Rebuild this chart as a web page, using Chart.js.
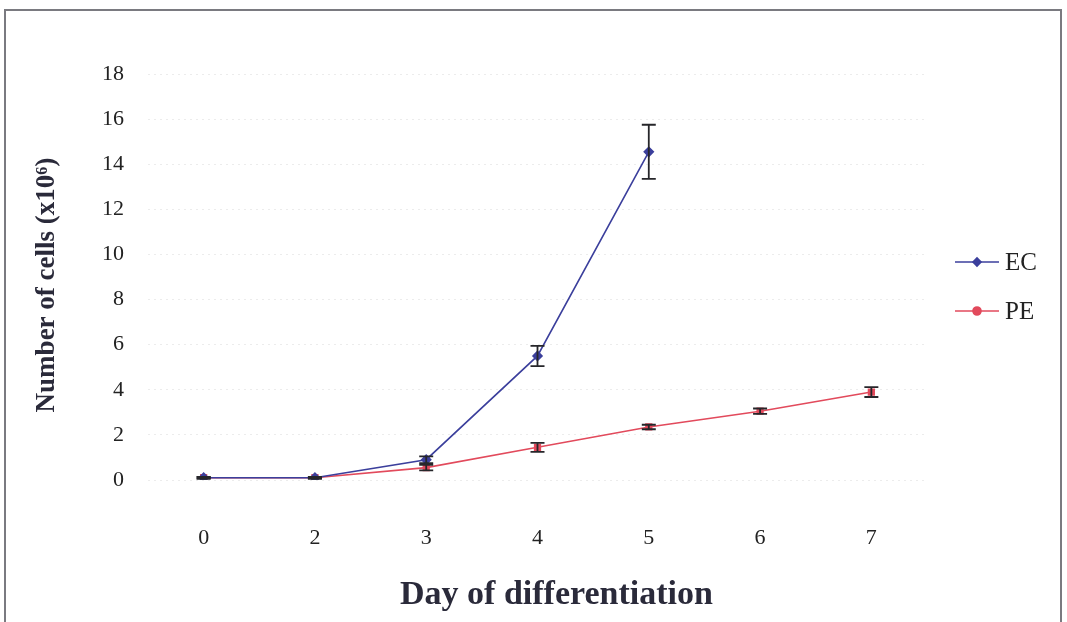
<!DOCTYPE html>
<html>
<head>
<meta charset="utf-8">
<script src="https://cdn.jsdelivr.net/npm/chart.js@4/dist/chart.umd.min.js"></script>
<style>
  html, body { margin: 0; padding: 0; background: #fff; }
  #wrap { position: relative; width: 1067px; height: 622px; overflow: hidden; }
  #frame { position: absolute; left: 4px; top: 9px; width: 1058px; height: 640px;
           border: 2px solid #7a7a80; box-sizing: border-box; pointer-events: none; }
  canvas { position: absolute; left: 0; top: 0; }
</style>
</head>
<body>
<div id="wrap">
  <canvas id="c" width="1067" height="622"></canvas>
  <div id="frame"></div>
</div>
<script>
// Days of differentiation (category axis)
const days = ['0', '2', '3', '4', '5', '6', '7'];
// Mean cell counts (x10^6)
const ecValues = [0.1, 0.1, 0.9, 5.5, 14.55, null, null];
const peValues = [0.1, 0.1, 0.55, 1.45, 2.35, 3.05, 3.9];
// Error bar half-lengths
const ecErrors = [0.04, 0.04, 0.15, 0.45, 1.2, null, null];
const peErrors = [0.04, 0.04, 0.12, 0.2, 0.1, 0.12, 0.22];
// Y axis range
const yTicks = { min: 0, max: 18, step: 2 };
// Axis titles
const xTitle = 'Day of differentiation';
const yTitle = 'Number of cells (x10\u2076)';

const EC_COLOR = '#3b3f9c';
const PE_COLOR = '#e24a5c';
const SERIF = '"Liberation Serif", "Times New Roman", serif';

// Vertical error bars with caps
const errorBars = {
  id: 'errorBars',
  afterDatasetsDraw(chart) {
    const ctx = chart.ctx;
    const x = chart.scales.x, y = chart.scales.y;
    const sets = [[ecValues, ecErrors], [peValues, peErrors]];
    ctx.save();
    ctx.strokeStyle = '#26262a';
    ctx.lineWidth = 1.8;
    sets.forEach(([vals, errs]) => {
      vals.forEach((v, i) => {
        if (v == null || errs[i] == null) return;
        const px = x.getPixelForValue(i);
        const top = y.getPixelForValue(v + errs[i]);
        const bot = y.getPixelForValue(v - errs[i]);
        ctx.beginPath();
        ctx.moveTo(px, top); ctx.lineTo(px, bot);
        ctx.moveTo(px - 7, top); ctx.lineTo(px + 7, top);
        ctx.moveTo(px - 7, bot); ctx.lineTo(px + 7, bot);
        ctx.stroke();
      });
    });
    ctx.restore();
  }
};

// Axis titles and the legend on the right
const annotations = {
  id: 'annotations',
  afterDraw(chart) {
    const ctx = chart.ctx;
    const area = chart.chartArea;
    ctx.save();
    ctx.fillStyle = '#2a2a3a';
    ctx.textAlign = 'center';
    ctx.textBaseline = 'middle';
    ctx.font = 'bold 34px ' + SERIF;
    ctx.fillText(xTitle, (area.left + area.right) / 2 + 19, 595);
    ctx.save();
    ctx.translate(47, (area.top + area.bottom) / 2 + 8);
    ctx.rotate(-Math.PI / 2);
    ctx.font = 'bold 27px ' + SERIF;
    ctx.fillText(yTitle, 0, 0);
    ctx.restore();

    const items = [
      { label: 'EC', color: EC_COLOR, style: 'rectRot', y: 262 },
      { label: 'PE', color: PE_COLOR, style: 'circle', y: 311 }
    ];
    items.forEach(it => {
      ctx.strokeStyle = it.color;
      ctx.lineWidth = 1.6;
      ctx.beginPath();
      ctx.moveTo(955, it.y); ctx.lineTo(999, it.y);
      ctx.stroke();
      ctx.fillStyle = it.color;
      Chart.helpers.drawPoint(ctx, { pointStyle: it.style, radius: 4, borderWidth: 1 }, 977, it.y);
      ctx.fill();
      ctx.fillStyle = '#222';
      ctx.font = '25px ' + SERIF;
      ctx.textBaseline = 'middle';
      ctx.textAlign = 'left';
      ctx.fillText(it.label, 1005, it.y + 1);
    });
    ctx.restore();
  }
};

new Chart(document.getElementById('c'), {
  type: 'line',
  data: {
    labels: days,
    datasets: [
      {
        label: 'EC', data: ecValues,
        borderColor: EC_COLOR, backgroundColor: EC_COLOR,
        borderWidth: 1.6, pointStyle: 'rectRot', pointRadius: 4.5,
        tension: 0
      },
      {
        label: 'PE', data: peValues,
        borderColor: PE_COLOR, backgroundColor: PE_COLOR,
        borderWidth: 1.6, pointStyle: 'rect', pointRadius: 4,
        tension: 0
      }
    ]
  },
  options: {
    responsive: false,
    animation: false,
    layout: { padding: { left: 0, right: 140, top: 74, bottom: 0 } },
    plugins: { legend: { display: false }, tooltip: { enabled: false } },
    scales: {
      x: {
        offset: true,
        grid: { display: false, drawTicks: false },
        border: { display: false },
        ticks: { color: '#222', font: { family: SERIF, size: 22 }, padding: 45 },
        afterFit(s) { s.height = 142; }
      },
      y: {
        min: yTicks.min, max: yTicks.max,
        grid: { color: 'rgba(0,0,0,0.075)', drawTicks: false, lineWidth: 1 },
        border: { display: false, dash: [2, 4] },
        ticks: { stepSize: yTicks.step, color: '#222', font: { family: SERIF, size: 22 }, padding: 24 },
        afterFit(s) { s.width = 148; }
      }
    }
  },
  plugins: [errorBars, annotations]
});
</script>
</body>
</html>
